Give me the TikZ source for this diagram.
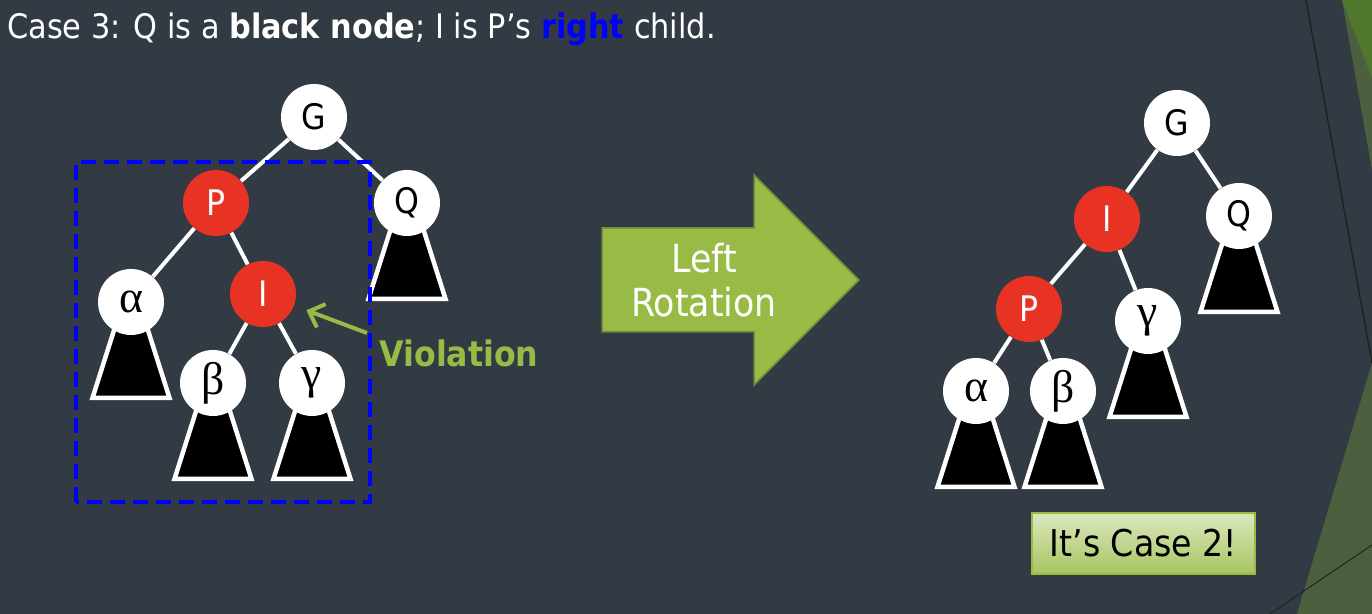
\documentclass[tikz,border=0pt]{standalone}
\usepackage{fontspec}
\setmainfont{DejaVu Sans Condensed}
\newfontfamily\greekfont{Liberation Serif}
\usepackage{xcolor}
\definecolor{rbbg}{RGB}{50,59,67}
\definecolor{rbred}{RGB}{232,50,35}
\definecolor{rbblue}{RGB}{0,0,255}
\definecolor{rbgreen}{RGB}{152,187,70}
\definecolor{rbdkgreen}{RGB}{113,137,63}
\definecolor{rbleaf}{RGB}{80,120,45}
\definecolor{rbmoss}{RGB}{76,96,64}
\definecolor{rbline}{RGB}{32,35,38}
\usetikzlibrary{arrows.meta,calc,backgrounds}

% black subtree hanging below a node
\newcommand{\subtree}[1]{%
  \draw[subtri] ($(#1)+(-0.16,0)$) -- ($(#1)+(-0.77,-1.92)$) -- ($(#1)+(0.77,-1.92)$) -- ($(#1)+(0.16,0)$) -- cycle;}

\begin{document}
\begin{tikzpicture}[
    wnode/.style={circle, fill=white, minimum size=1.32cm, inner sep=0pt, text=black, font=\fontsize{20}{20}\selectfont},
    rnode/.style={wnode, fill=rbred, text=white},
    gnode/.style={wnode, font=\greekfont\fontsize{26}{26}\selectfont},
    link/.style={draw=white, line width=0.08cm},
    subtri/.style={draw=white, fill=black, line width=0.09cm},
    violbox/.style={draw=rbblue, line width=0.08cm, dash pattern=on 0.3cm off 0.16cm},
    violarrow/.style={draw=rbgreen, line width=0.08cm, -{Straight Barb[length=2.6mm,width=5mm]}, shorten >=0.26cm},
    rotarrow/.style={fill=rbgreen, draw=rbdkgreen, line width=0.03cm},
    casebox/.style={draw=rbgreen, line width=0.03cm, top color=rbgreen!35!white, bottom color=rbgreen!85!white, minimum width=4.46cm, minimum height=1.22cm, font=\fontsize{21}{21}\selectfont, text=black}
  ]
  \useasboundingbox (0,0) rectangle (27.44,12.28);

  % title
  \node[anchor=base west, inner sep=0pt, text=white, font=\fontsize{19.2}{22}\selectfont] (title) at (0.14,11.5) {Case 3: Q is a \textbf{black node}; I is P’s \textbf{\textcolor{rbblue}{right}} child.};

  % before rotation
  \node[wnode] (gL) at (6.28,9.94) {G};
  \node[rnode] (pL) at (4.32,8.22) {P};
  \node[wnode] (qL) at (8.14,8.22) {Q};
  \node[gnode] (aL) at (2.62,6.24) {α};
  \node[rnode] (iL) at (5.26,6.40) {I};
  \node[gnode] (bL) at (4.26,4.62) {β};
  \node[gnode] (cL) at (6.24,4.62) {γ};
  \draw[link] (gL) -- (pL);
  \draw[link] (gL) -- (qL);
  \draw[link] (pL) -- (aL);
  \draw[link] (pL) -- (iL);
  \draw[link] (iL) -- (bL);
  \draw[link] (iL) -- (cL);

  \draw[violbox] (1.52,2.24) rectangle (7.40,9.04);
  \node[text=rbgreen, font=\fontsize{20}{20}\selectfont\bfseries] (viol) at (9.18,5.22) {Violation};
  \coordinate (vstart) at (7.34,5.62);
  \draw[violarrow] (vstart) -- (iL);

  % rotation arrow
  \draw[rotarrow] (12.04,7.72) -- (15.08,7.72) -- (15.08,8.78) -- (17.18,6.68) -- (15.08,4.58) -- (15.08,5.64) -- (12.04,5.64) -- cycle;
  \node[align=center, text=white, font=\fontsize{22}{25}\selectfont] (rot) at (14.08,6.68) {Left\\Rotation};

  % after rotation
  \node[wnode] (gR) at (23.54,9.82) {G};
  \node[rnode] (iR) at (22.14,7.90) {I};
  \node[wnode] (qR) at (24.78,7.96) {Q};
  \node[rnode] (pR) at (20.58,6.10) {P};
  \node[gnode] (cR) at (22.96,5.86) {γ};
  \node[gnode] (aR) at (19.52,4.46) {α};
  \node[gnode] (bR) at (21.26,4.46) {β};
  \draw[link] (gR) -- (iR);
  \draw[link] (gR) -- (qR);
  \draw[link] (iR) -- (pR);
  \draw[link] (iR) -- (cR);
  \draw[link] (pR) -- (aR);
  \draw[link] (pR) -- (bR);

  \node[casebox] (case2) at (22.87,1.41) {It’s Case 2!};

  \begin{scope}[on background layer]
    \fill[rbbg] (0,0) rectangle (27.44,12.28);
    % slide corner decoration
    \fill[rbmoss] (26.84,12.28) -- (27.44,12.28) -- (27.44,8.88) -- cycle;
    \fill[rbleaf] (26.84,12.28) -- (27.44,12.28) -- (27.44,10.72) -- cycle;
    \draw[rbline, line width=0.03cm] (26.12,12.28) -- (27.44,5.02);
    \fill[rbmoss] (27.44,5.02) -- (25.94,0) -- (27.44,0) -- cycle;
    \draw[rbline, line width=0.02cm] (25.40,0) -- (27.44,1.38);
    \subtree{aL} \subtree{bL} \subtree{cL} \subtree{qL}
    \subtree{aR} \subtree{bR} \subtree{cR} \subtree{qR}
  \end{scope}
\end{tikzpicture}
\end{document}
